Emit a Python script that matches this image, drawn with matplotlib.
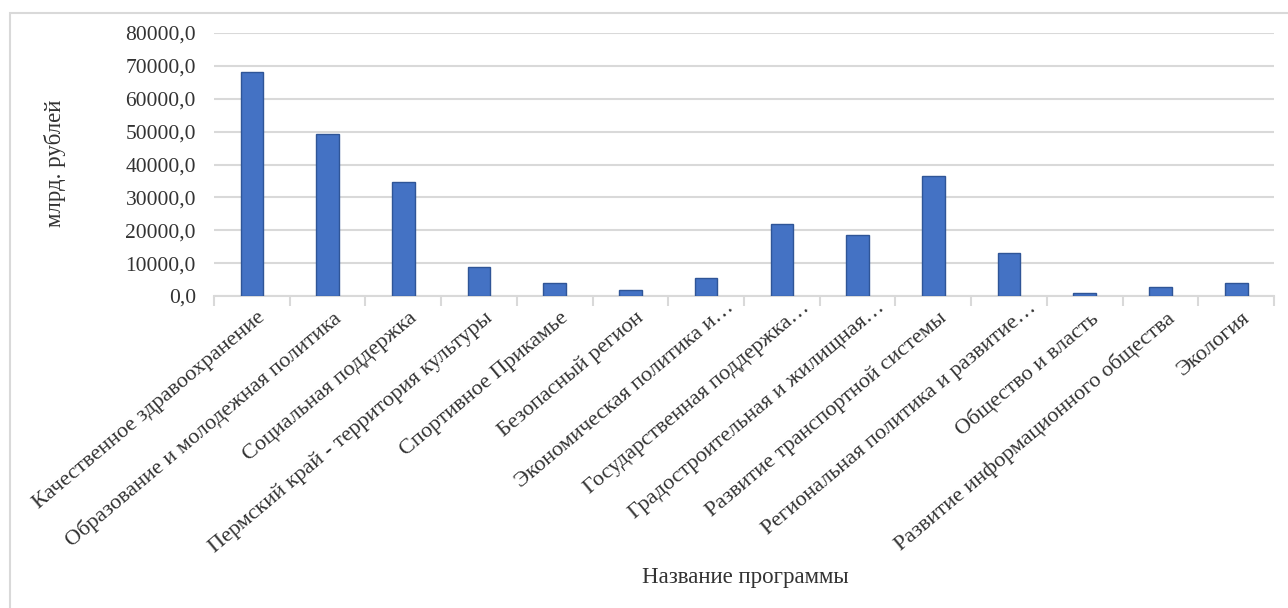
import matplotlib.pyplot as plt
from matplotlib.patches import Rectangle
from matplotlib.ticker import FuncFormatter, FixedLocator
from matplotlib.transforms import ScaledTranslation
import numpy as np

# Data
programs = [
    "Качественное здравоохранение",
    "Образование и молодежная политика",
    "Социальная поддержка",
    "Пермский край - территория культуры",
    "Спортивное Прикамье",
    "Безопасный регион",
    "Экономическая политика и…",
    "Государственная поддержка…",
    "Градостроительная и жилищная…",
    "Развитие транспортной системы",
    "Региональная политика и развитие…",
    "Общество и власть",
    "Развитие информационного общества",
    "Экология",
]
values = [68200, 49200, 34800, 8800, 4000, 1950, 5500, 21800, 18500,
          36500, 13200, 800, 2850, 4000]
y_ticks = [0, 10000, 20000, 30000, 40000, 50000, 60000, 70000, 80000]

W, H = 1288, 608
plt.rcParams['font.family'] = ['Liberation Serif', 'DejaVu Serif']
text_col = '#333333'
grid_col = '#d9d9d9'

fig = plt.figure(figsize=(W / 100, H / 100), dpi=100)
ax = fig.add_axes([214 / W, 1 - 296 / H, (1274 - 214) / W, (296 - 33) / H])

x = np.arange(len(programs))
ax.bar(x, values, width=0.3, color='#4472C4', edgecolor='#2F5597', linewidth=1, zorder=3)

ax.set_xlim(-0.5, len(programs) - 0.5)
ax.set_ylim(0, 80000)
ax.set_yticks(y_ticks)
ax.yaxis.set_major_formatter(FuncFormatter(lambda v, p: f"{v:.1f}".replace('.', ',')))
ax.tick_params(axis='y', length=0, labelsize=15.5, labelcolor=text_col, pad=13)
ax.grid(axis='y', color=grid_col, linewidth=1.5, zorder=0)

# category labels at centers, tick marks at boundaries
ax.set_xticks(x)
labels = ax.set_xticklabels(programs, rotation=40, ha='right', va='top',
                            rotation_mode='anchor', fontsize=16, color=text_col)
ax.tick_params(axis='x', which='major', length=0, pad=9)
ax.xaxis.set_minor_locator(FixedLocator(np.arange(-0.5, len(programs), 1.0)))
ax.tick_params(axis='x', which='minor', length=7, width=1.5, color=grid_col)

# shift labels a touch right; truncated ones sit further up the diagonal
for lab in labels:
    dx, dy = 0.05, 0.0
    if lab.get_text().endswith("…"):
        dx, dy = 0.19, 0.10
    lab.set_transform(lab.get_transform() + ScaledTranslation(dx, dy, fig.dpi_scale_trans))

for s in ['top', 'right', 'left']:
    ax.spines[s].set_visible(False)
ax.spines['bottom'].set_color(grid_col)
ax.spines['bottom'].set_linewidth(1.5)

fig.text(55 / W, 1 - 163 / H, "млрд. рублей", rotation=90, ha='center', va='center',
         fontsize=16.5, color=text_col)
fig.text(745 / W, 1 - 578 / H, "Название программы", ha='center', va='center',
         fontsize=16.5, color=text_col)

# outer chart frame
fig.patches.append(Rectangle((10 / W, -0.1), 1.2, 1 - 13 / H + 0.1,
                             transform=fig.transFigure, fill=False,
                             edgecolor=grid_col, linewidth=1.5))

fig.savefig("out.png", dpi=100)
